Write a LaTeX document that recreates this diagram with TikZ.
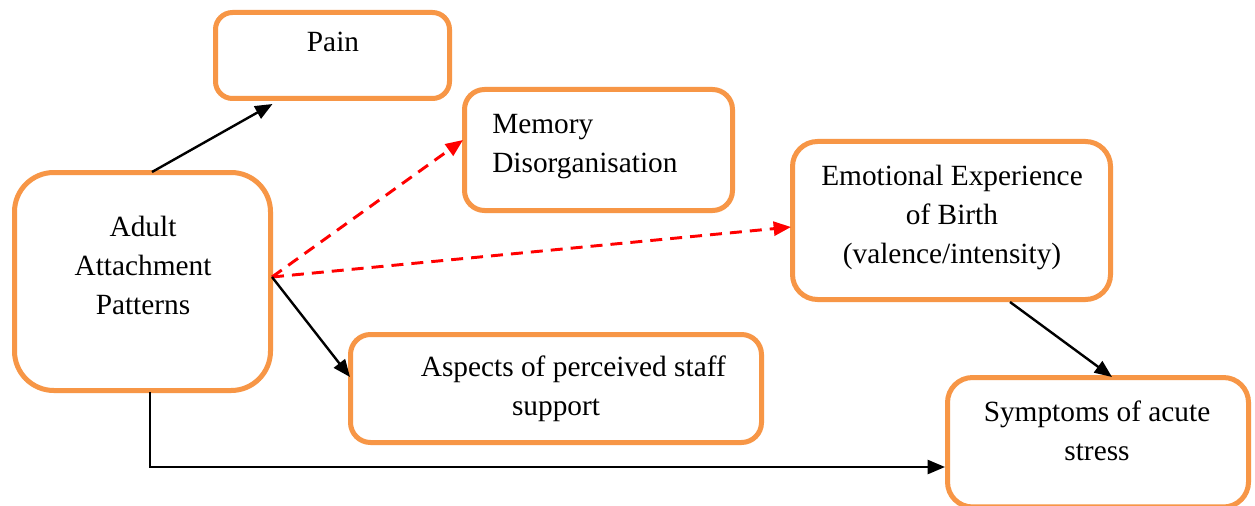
\documentclass[tikz,border=0pt]{standalone}
\usepackage{fontspec}
\setmainfont{Liberation Serif}
\usetikzlibrary{arrows.meta,calc}
\definecolor{boxorange}{HTML}{F79646}
\begin{document}
\begin{tikzpicture}[x=0.75pt,y=-0.75pt,
  box/.style={draw=boxorange, line width=3.75pt, rectangle, inner sep=0pt},
  lbl/.style={font=\fontsize{22}{29}\selectfont, inner sep=0pt, align=center, anchor=base},
  link/.style={line width=1.8pt, -{Triangle[length=13pt,width=10.5pt]}},
  dlink/.style={draw=red, line width=2.2pt, dash pattern=on 9pt off 6pt,
                -{Triangle[length=13pt,width=10.5pt,fill=red]}}
]
\clip (0,0) rectangle (1255,506);
\fill[white] (0,0) rectangle (1255,506);

% boxes
\node[box, rounded corners=12.75pt, minimum width=175.5pt, minimum height=64.5pt] (pain) at (332.5,55.5) {};
\node[box, rounded corners=29.5pt, minimum width=192pt, minimum height=163.5pt] (adult) at (142.5,281.5) {};
\node[box, rounded corners=15pt, minimum width=201pt, minimum height=90.75pt] (mem) at (598.5,150) {};
\node[box, rounded corners=18.75pt, minimum width=238.5pt, minimum height=118.5pt] (emo) at (951.5,220.5) {};
\node[box, rounded corners=15pt, minimum width=308.25pt, minimum height=81pt] (asp) at (556,388.5) {};
\node[box, rounded corners=18.75pt, minimum width=225.75pt, minimum height=97.1pt] (sym) at (1098,442.25) {};

% labels (anchored at the baseline of their last line)
\node[lbl] (painT) at (333,52) {Pain};
\node[lbl] (adultT) at (143,314) {Adult\\Attachment\\Patterns};
\node[lbl, align=left, anchor=base west] (memT) at (492,172) {Memory\\Disorganisation};
\node[lbl] (emoT) at (952,263) {Emotional Experience\\of Birth\\(valence/intensity)};
\node[lbl] (aspT) at (556,415) {\hspace*{26pt}Aspects of perceived staff\\support};
\node[lbl] (symT) at (1097,460) {Symptoms of acute\\stress};

% connectors
\draw[link] ($(adult.north)+(9.5,2)$) -- ($(pain.south)+(-60,3)$);
\draw[dlink] ($(adult.east)+(-1,-4.5)$) -- ($(mem.west)+(1,-10)$);
\draw[dlink] ($(adult.east)+(-1,-4.5)$) -- ($(emo.west)+(1,6.5)$);
\draw[link] ($(adult.east)+(-1,-4.5)$) -- ($(asp.west)+(2,-11.5)$);
\draw[link] ($(adult.south)+(7.5,-1)$) |- ($(sym.west)+(0,24.75)$);
\draw[link] ($(emo.south)+(58.5,0)$) -- ($(sym.north)+(14,2)$);
\end{tikzpicture}
\end{document}
